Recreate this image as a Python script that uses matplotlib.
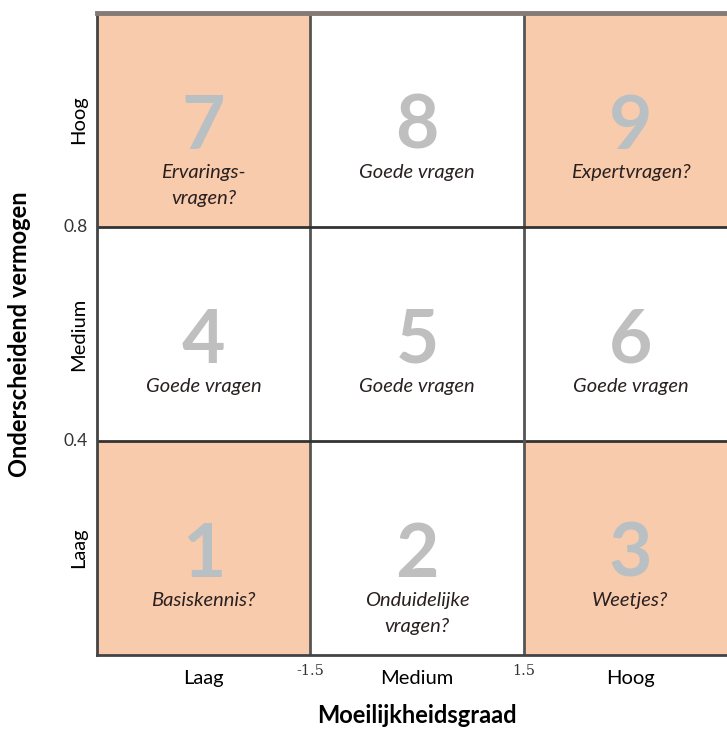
import matplotlib.pyplot as plt
from matplotlib.patches import Rectangle

plt.rcParams['font.family'] = ['Lato', 'DejaVu Sans']

# 3x3 grid: rows from bottom (Laag) to top (Hoog), columns Laag -> Hoog
cell_numbers = [[1, 2, 3],
                [4, 5, 6],
                [7, 8, 9]]
cell_labels = [["Basiskennis?", "Onduidelijke\nvragen?", "Weetjes?"],
               ["Goede vragen", "Goede vragen", "Goede vragen"],
               ["Ervarings-\nvragen?", "Goede vragen", "Expertvragen?"]]
shaded = [[True, False, True],
          [False, False, False],
          [True, False, True]]

x_levels = ["Laag", "Medium", "Hoog"]
y_levels = ["Laag", "Medium", "Hoog"]
x_bounds = ["-1.5", "1.5"]
y_bounds = ["0.4", "0.8"]

peach = '#F8CBAD'

fig = plt.figure(figsize=(7.27, 7.31), dpi=100)
ax = fig.add_axes([97 / 727, 76 / 731, 640 / 727, 642 / 731])
ax.set_xlim(0, 3)
ax.set_ylim(0, 3)

for r in range(3):
    for c in range(3):
        face = peach if shaded[r][c] else 'white'
        ax.add_patch(Rectangle((c, r), 1, 1, facecolor=face, edgecolor='none', zorder=1))
        num_col = '#B9C0C3' if shaded[r][c] else '#BFBFBF'
        ax.text(c + 0.5, r + 0.465, str(cell_numbers[r][c]), ha='center', va='center',
                fontsize=54, fontweight='bold', color=num_col, zorder=3)
        ax.text(c + 0.5, r + 0.295, cell_labels[r][c], ha='center', va='top',
                fontsize=14.5, style='italic', color='#2a2020', linespacing=1.65, zorder=3)

# grid lines
for v in [1, 2]:
    ax.axvline(v, color='#555555', lw=2, zorder=2)
    ax.axhline(v, color='#333333', lw=2, zorder=2)
for s in ['left', 'bottom']:
    ax.spines[s].set_color('#444444')
    ax.spines[s].set_linewidth(2)
ax.spines['top'].set_color('#857a75')
ax.spines['top'].set_linewidth(3.5)
ax.spines['right'].set_visible(False)

ax.set_xticks([0.5, 1.5, 2.5])
ax.set_xticklabels(x_levels, fontsize=14.5)
ax.set_yticks([0.5, 1.5, 2.5])
ax.set_yticklabels(y_levels, fontsize=14.5, rotation=90, va='center')
ax.tick_params(length=0, pad=11)
ax.tick_params(axis='y', pad=7)

for i, lab in enumerate(x_bounds):
    ax.text(i + 1, -0.075, lab, ha='center', va='center', fontsize=10.5,
            family='DejaVu Serif', color='#333333')
for i, lab in enumerate(y_bounds):
    ax.text(-0.1, i + 1, lab, ha='center', va='center', fontsize=12.5, color='#333333')

ax.set_xlabel("Moeilijkheidsgraad", fontsize=17, fontweight='bold', labelpad=12)
ax.set_ylabel("Onderscheidend vermogen", fontsize=17, fontweight='bold', labelpad=28)

fig.savefig('out.png', dpi=100)
